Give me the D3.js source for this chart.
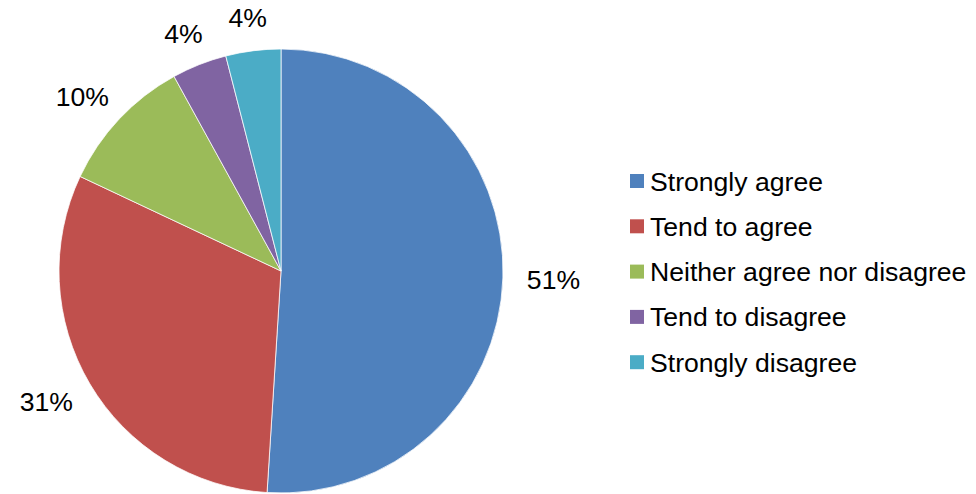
<!DOCTYPE html>
<html>
<head>
<meta charset="utf-8">
<script src="https://cdn.jsdelivr.net/npm/d3@7"></script>
<style>
  html, body { margin: 0; padding: 0; background: #fff; }
  svg { display: block; }
  text { font-family: "Liberation Sans", Arial, Helvetica, sans-serif; fill: #000; }
</style>
</head>
<body>
<svg id="chart" width="976" height="494"></svg>
<script>
// Survey responses (percent of respondents)
const categories = ["Strongly agree", "Tend to agree", "Neither agree nor disagree", "Tend to disagree", "Strongly disagree"];
const values = [51, 31, 10, 4, 4];
const colors = ["#4F81BD", "#C0504D", "#9BBB59", "#8064A2", "#4BACC6"];

const width = 976, height = 494;
const cx = 281, cy = 271, radius = 222;
const fontSize = 26.6;

const svg = d3.select("#chart");

const data = categories.map((c, i) => ({ category: c, value: values[i], color: colors[i] }));

const pie = d3.pie().value(d => d.value).sort(null);
const arcs = pie(data);
const arc = d3.arc().innerRadius(0).outerRadius(radius);

const g = svg.append("g").attr("transform", `translate(${cx},${cy})`);

g.selectAll("path.slice")
  .data(arcs)
  .join("path")
  .attr("class", "slice")
  .attr("d", arc)
  .attr("fill", d => d.data.color)
  .attr("stroke", "#fff")
  .attr("stroke-width", 0.75);

// Percentage labels placed just outside each slice: the label box is pushed
// outward along the slice's mid-angle so it clears the pie's edge.
const labelR = 246;
const labels = g.selectAll("text.pct")
  .data(arcs)
  .join("text")
  .attr("class", "pct")
  .attr("font-size", fontSize)
  .attr("text-anchor", "middle")
  .text(d => Math.round(d.data.value) + "%");

labels.each(function(d) {
  const a = (d.startAngle + d.endAngle) / 2;
  const dx = Math.sin(a), dy = -Math.cos(a);
  const bb = this.getBBox();
  const w = bb.width, h = fontSize * 0.72;
  const x = labelR * dx + dx * w / 2;
  const y = labelR * dy + dy * h / 2;
  d3.select(this).attr("x", x).attr("y", y + h / 2);
});

// Legend
const legendX = 630, legendY0 = 181, legendStep = 45.3, sw = 14;
const legend = svg.append("g");
const items = legend.selectAll("g.item")
  .data(data)
  .join("g")
  .attr("class", "item")
  .attr("transform", (d, i) => `translate(${legendX},${legendY0 + i * legendStep})`);

items.append("rect")
  .attr("x", 0).attr("y", -sw / 2)
  .attr("width", sw).attr("height", sw)
  .attr("fill", d => d.color);

items.append("text")
  .attr("x", 20)
  .attr("y", fontSize * 0.36)
  .attr("font-size", fontSize)
  .text(d => d.category);
</script>
</body>
</html>
